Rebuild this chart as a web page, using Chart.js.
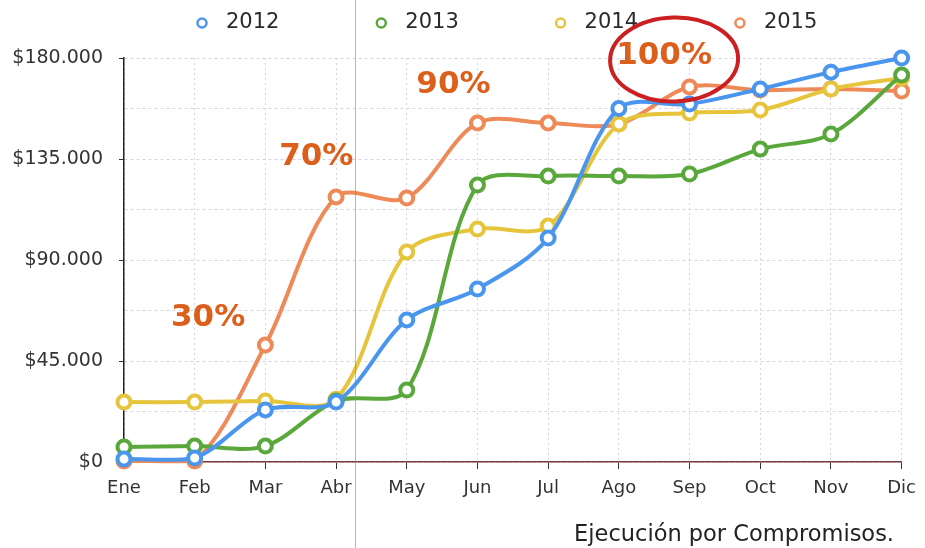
<!DOCTYPE html>
<html>
<head>
<meta charset="utf-8">
<script src="https://cdn.jsdelivr.net/npm/chart.js@4/dist/chart.umd.min.js"></script>
<style>
  html, body { margin: 0; padding: 0; background: #ffffff; }
  #wrap { width: 925px; height: 548px; }
</style>
</head>
<body>
<div id="wrap"><canvas id="c" width="925" height="548"></canvas></div>
<script>
// ---- data ----
const months = ['Ene','Feb','Mar','Abr','May','Jun','Jul','Ago','Sep','Oct','Nov','Dic'];
const seriesNames = ['2012','2013','2014','2015'];
const s2012 = [1300, 1800, 23200, 26700, 63300, 77100, 99800, 157500, 159500, 166200, 173700, 180000];
const s2013 = [6700, 7100, 7100, 27200, 32100, 123400, 127400, 127400, 128300, 139400, 146100, 172400];
const s2014 = [26700, 26700, 27200, 28000, 93600, 103800, 105100, 150600, 155500, 156800, 166200, 171100];
const s2015 = [500, 500, 52100, 118100, 117600, 151000, 151000, 150600, 167100, 165700, 166200, 165300];
const yMax = 180000;
const yStep = 22500;
const yLabelStep = 45000;
const noteTexts = ['30%', '70%', '90%', '100%'];
const noteAt = [1.19, 2.72, 4.66, 7.64];      // category position
const noteValue = [64150, 135900, 168000, 181100];
const circledNote = 3;
const chartTitle = 'Ejecución por Compromisos.';

// ---- styles ----
const colors = ['#4a96ee', '#5aa83c', '#e6c53c', '#ee8a58'];
const FONT = "'DejaVu Sans', Verdana, sans-serif";

function money(v) {
  return '$' + Math.round(v).toString().replace(/\B(?=(\d{3})+(?!\d))/g, '.');
}

const seriesData = [s2012, s2013, s2014, s2015];
const datasets = seriesNames.map((name, i) => ({
  label: name,
  data: seriesData[i],
  borderColor: colors[i],
  backgroundColor: '#ffffff',
  borderWidth: 4,
  pointRadius: 6.5,
  pointBorderWidth: 4,
  pointBackgroundColor: '#ffffff',
  pointBorderColor: colors[i],
  tension: 0.32,
  clip: false
}));

const decor = {
  id: 'decor',
  beforeDraw(chart) {
    const ctx = chart.ctx;
    ctx.save();
    ctx.fillStyle = '#ffffff';
    ctx.fillRect(0, 0, chart.width, chart.height);
    ctx.restore();
  },
  afterDraw(chart) {
    const ctx = chart.ctx;
    const xs = chart.scales.x, ys = chart.scales.y;
    ctx.save();
    // legend
    ctx.font = '21px ' + FONT;
    ctx.textBaseline = 'middle';
    ctx.textAlign = 'left';
    chart.data.datasets.forEach((ds, i) => {
      const cx = 202 + i * 179.3, cy = 23;
      ctx.beginPath();
      ctx.arc(cx, cy, 4.5, 0, Math.PI * 2);
      ctx.fillStyle = '#ffffff';
      ctx.fill();
      ctx.lineWidth = 2.5;
      ctx.strokeStyle = ds.borderColor;
      ctx.stroke();
      ctx.fillStyle = '#2a2a2a';
      ctx.fillText(ds.label, cx + 24, cy);
    });
    // percentage notes
    ctx.font = 'bold 31px ' + FONT;
    ctx.textAlign = 'center';
    ctx.fillStyle = '#dd5f1c';
    noteTexts.forEach((t, i) => {
      ctx.fillText(t, xs.getPixelForValue(noteAt[i]), ys.getPixelForValue(noteValue[i]));
    });
    // red ellipse round the last note
    const ex = xs.getPixelForValue(noteAt[circledNote]) + 10;
    const ey = ys.getPixelForValue(noteValue[circledNote]) + 4;
    ctx.beginPath();
    ctx.ellipse(ex, ey, 64, 42, -0.03, 0, Math.PI * 2);
    ctx.lineWidth = 4;
    ctx.strokeStyle = '#cc1f22';
    ctx.stroke();
    // title
    ctx.font = '22.5px ' + FONT;
    ctx.textAlign = 'right';
    ctx.fillStyle = '#222222';
    ctx.fillText(chartTitle, 894, 535);
    // scan artefact line
    ctx.beginPath();
    ctx.moveTo(355.5, 0);
    ctx.lineTo(355.5, chart.height);
    ctx.lineWidth = 1;
    ctx.strokeStyle = 'rgba(125,125,220,0.6)';
    ctx.stroke();
    ctx.restore();
  }
};

new Chart(document.getElementById('c'), {
  type: 'line',
  data: { labels: months, datasets },
  options: {
    responsive: false,
    devicePixelRatio: 1,
    animation: false,
    events: [],
    layout: { padding: { left: 0, right: 18, top: 58, bottom: 0 } },
    plugins: {
      legend: { display: false },
      title: { display: false },
      tooltip: { enabled: false }
    },
    scales: {
      x: {
        type: 'category',
        offset: false,
        afterFit(s) { s.height = 86; },
        ticks: { font: { family: FONT, size: 18 }, color: '#333333', padding: 9, maxRotation: 0, autoSkip: false },
        grid: { color: '#d6d2e2', lineWidth: 1, tickColor: '#333333', tickLength: 7, drawTicks: true },
        border: { display: true, color: '#7a3a3a', width: 1.5, dash: [2, 3] }
      },
      y: {
        min: 0,
        max: yMax,
        afterFit(s) { s.width = 124; },
        ticks: {
          stepSize: yStep,
          autoSkip: false,
          font: { family: FONT, size: 19 },
          color: '#333333',
          padding: 16,
          callback: v => (v % yLabelStep === 0 ? money(v) : '')
        },
        grid: {
          color: '#d8d4e2',
          lineWidth: 1,
          tickLength: 5,
          tickColor: c => (c.tick && c.tick.value % yLabelStep === 0 ? '#333333' : 'rgba(0,0,0,0)')
        },
        border: { display: true, color: '#222222', width: 1.5, dash: [3, 3] }
      }
    }
  },
  plugins: [decor]
});
</script>
</body>
</html>
